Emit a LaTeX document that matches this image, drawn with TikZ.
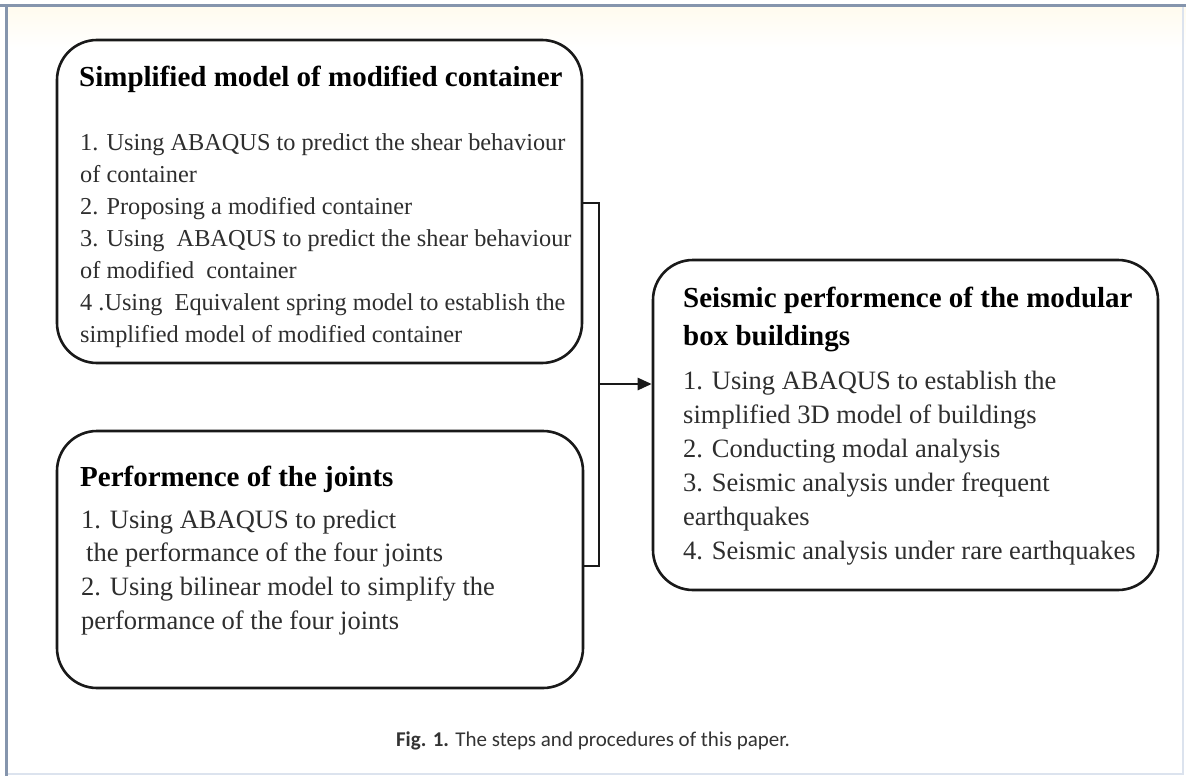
\documentclass[tikz,border=0pt]{standalone}
\usepackage{fontspec}
\setmainfont{Liberation Serif}
\newfontfamily\capfont{Carlito}
\usetikzlibrary{arrows.meta}
\definecolor{frameblue}{HTML}{8595AD}
\definecolor{framefaint}{HTML}{DCE3EE}
\definecolor{bodygray}{HTML}{2E2E2E}
\definecolor{cream}{HTML}{FFFBEF}
\tikzset{
  box/.style={draw=black!90, line width=2.6pt, rounded corners=40pt, inner sep=0pt},
  ttl/.style={anchor=base west, inner sep=0pt, font=\fontsize{29}{34}\selectfont\bfseries, text=black},
  lnA/.style={anchor=base west, inner sep=0pt, font=\fontsize{24.3}{30}\selectfont, text=bodygray},
  lnB/.style={anchor=base west, inner sep=0pt, font=\fontsize{26.5}{32}\selectfont, text=bodygray},
  conn/.style={line width=2.6pt, black!90}
}
\begin{document}
\begin{tikzpicture}[x=1pt,y=-1pt]
\useasboundingbox (0,0) rectangle (1186,776);
\fill[white] (0,0) rectangle (1186,776);
\shade[top color=cream, bottom color=white] (6,8) rectangle (1186,48);
% page frame
\draw[framefaint, line width=2pt] (1183,6) -- (1183,774) -- (6,774);
\draw[frameblue, line width=3pt] (0,6) -- (1186,6);
\draw[frameblue, line width=3pt] (6,6) -- (6,776);

% boxes
\node[box, minimum width=525pt, minimum height=323pt] (b1) at (319.5,201.5) {};
\node[box, minimum width=526pt, minimum height=257pt] (b2) at (320,559.5) {};
\node[box, minimum width=505pt, minimum height=330pt] (b3) at (905.5,425) {};

% box 1 text
\node[ttl] (t1) at (79,86) {Simplified model of modified container};
\node[lnA] (l1a) at (80,150) {1. Using ABAQUS to predict the shear behaviour};
\node[lnA] (l1b) at (80,182) {of container};
\node[lnA] (l1c) at (80,214) {2. Proposing a modified container};
\node[lnA] (l1d) at (80,246) {3. Using \ ABAQUS to predict the shear behaviour};
\node[lnA] (l1e) at (80,278) {of modified \ container};
\node[lnA] (l1f) at (80,310) {4 .Using \ Equivalent spring model to establish the};
\node[lnA] (l1g) at (80,342) {simplified model of modified container};

% box 2 text
\node[ttl] (t2) at (80,486) {Performence of the joints};
\node[lnB] (l2a) at (81,528) {1. Using ABAQUS to predict};
\node[lnB] (l2b) at (86,561) {the performance of the four joints};
\node[lnB] (l2c) at (81,595) {2. Using bilinear model to simplify the};
\node[lnB] (l2d) at (81,629) {performance of the four joints};

% box 3 text
\node[ttl] (t3a) at (683,307) {Seismic performence of the modular};
\node[ttl] (t3b) at (683,345) {box buildings};
\node[lnB] (l3a) at (683,389) {1. Using ABAQUS to establish the};
\node[lnB] (l3b) at (683,423) {simplified 3D model of buildings};
\node[lnB] (l3c) at (683,457) {2. Conducting modal analysis};
\node[lnB] (l3d) at (683,491) {3. Seismic analysis under frequent};
\node[lnB] (l3e) at (683,525) {earthquakes};
\node[lnB] (l3f) at (683,559) {4. Seismic analysis under rare earthquakes};

% connectors
\coordinate (j1) at (599,203);
\coordinate (j2) at (599,566);
\coordinate (jm) at (599,384);
\draw[conn] (b1.east |- j1) -- (j1) -- (j2) -- (b2.east |- j2);
\draw[conn, -{Triangle[length=14pt, width=12pt]}] (jm) -- (b3.west |- jm);

% caption
\node[anchor=base, inner sep=0pt, text=black!80, font=\capfont\fontsize{21}{24}\selectfont] (cap) at (593,746) {\textbf{Fig. 1.} The steps and procedures of this paper.};
\end{tikzpicture}
\end{document}
